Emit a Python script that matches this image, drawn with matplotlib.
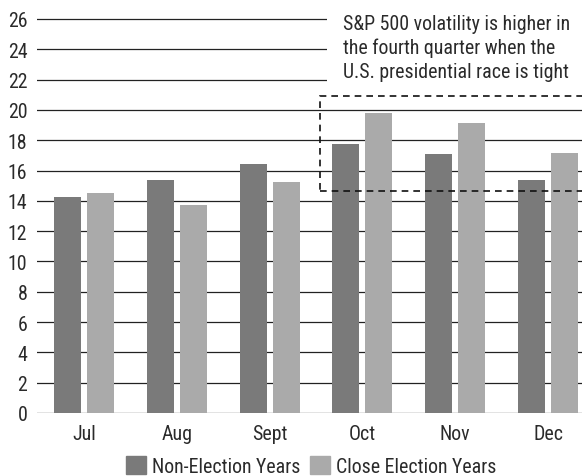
import matplotlib
matplotlib.use("Agg")
import matplotlib.pyplot as plt
from matplotlib import font_manager
from matplotlib.patches import Rectangle, Patch
import numpy as np

months = ["Jul", "Aug", "Sept", "Oct", "Nov", "Dec"]
non_election = [14.25, 15.4, 16.45, 17.75, 17.1, 15.4]
close_election = [14.5, 13.7, 15.25, 19.8, 19.15, 17.15]
series_names = ["Non-Election Years", "Close Election Years"]
yticks = list(range(0, 27, 2))
note = "S&P 500 volatility is higher in\nthe fourth quarter when the\nU.S. presidential race is tight"

entries = [(f.name, f.weight, f.stretch, f.style) for f in font_manager.fontManager.ttflist]
cands = ["Liberation Sans Narrow", "DejaVu Sans Condensed", "Roboto Condensed",
         "Open Sans Condensed", "Open Sans Condensed Light"]
family = "Liberation Sans"
found = False
for cand in cands:
    for n, wgt, st, sty in entries:
        if n == cand and sty == "normal" and (wgt in (400, "normal", "regular", 300, "light")):
            family = cand
            found = True
            break
    if found:
        break
plt.rcParams["font.family"] = [family, "DejaVu Sans"]
plt.rcParams["font.weight"] = "normal"

dark = "#7a7a7a"
light = "#aaaaaa"
fs = 14.3
tc = "#2a2a2a"

fig = plt.figure(figsize=(5.82, 4.77), dpi=100)
ax = fig.add_axes([37/582, 1-414/477, 545/582, (414-17.7)/477])

x = np.arange(len(months))
w = 0.291
off = 0.178
ax.bar(x - off, non_election, w, color=dark, zorder=2)
ax.bar(x + off, close_election, w, color=light, zorder=2)

ax.set_xlim(-0.506, 5.366)
ax.set_ylim(0, 26.15)
ax.set_yticks(yticks)
ax.set_xticks(x)
ax.set_xticklabels(months)
ax.set_axisbelow(True)
ax.yaxis.grid(True, color="#222222", lw=0.9)
for s in ax.spines.values():
    s.set_visible(False)
ax.tick_params(axis="both", length=0, labelsize=fs, colors=tc)
ax.tick_params(axis="y", pad=7)
ax.tick_params(axis="x", pad=8)

ax.add_patch(Rectangle((327/582, 1-86/477), 255/582, 86/477, transform=fig.transFigure,
                       facecolor="white", edgecolor="none", zorder=1.5, clip_on=False))
fig.text(343/582, 1-15/477, note, ha="left", va="top", fontsize=fs, color=tc,
         linespacing=1.3, zorder=5, fontweight="normal")

ax.add_patch(Rectangle((2.543, 14.65), 4.0, 20.9-14.65, fill=False, edgecolor="#111111",
                       lw=1.2, ls=(0, (4, 3)), zorder=4))

handles = [Patch(color=dark), Patch(color=light)]
fig.legend(handles, series_names, loc="center", bbox_to_anchor=(0.535, 0.021),
           bbox_transform=fig.transFigure, ncol=2, frameon=False, fontsize=fs,
           handlelength=1.0, handleheight=1.0, handletextpad=0.3, columnspacing=0.5,
           borderaxespad=0, borderpad=0, labelcolor=tc)

fig.savefig("out.png", dpi=100)
